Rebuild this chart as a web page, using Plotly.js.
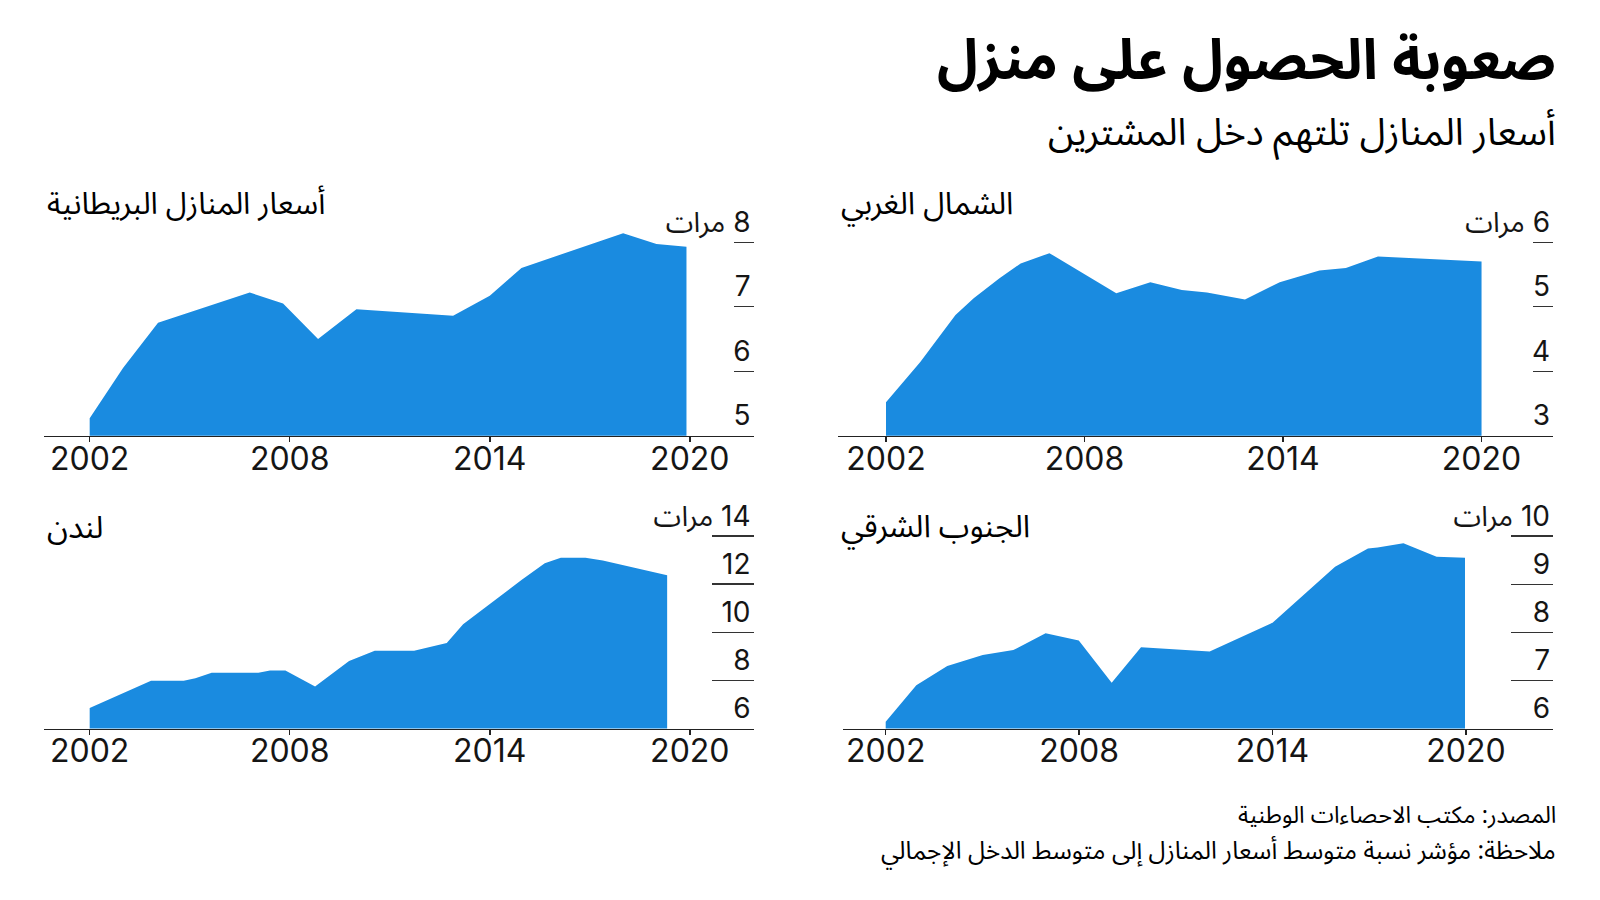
<!DOCTYPE html>
<html>
<head>
<meta charset="utf-8">
<script src="https://cdn.plot.ly/plotly-3.0.1.min.js"></script>
<style>
  html, body { margin: 0; padding: 0; background: #ffffff; }
  #chart { width: 1600px; height: 900px; }
</style>
</head>
<body>
<div id="chart"></div>
<script>
// ---- Data ----
const xTickYears = [2002, 2008, 2014, 2020];
const xTickLabels = ['2002', '2008', '2014', '2020'];

// UK (England) house price to earnings ratio
const ukYears = [2002, 2003, 2004.05, 2006.8, 2007.8, 2008.85, 2010, 2012.9, 2014, 2014.95, 2018, 2019, 2019.9];
const ukRatio = [5.27, 6.05, 6.75, 7.22, 7.05, 6.50, 6.96, 6.86, 7.17, 7.60, 8.14, 7.97, 7.93];

// North West
const nwYears = [2002, 2002.75, 2003.03, 2004.1, 2004.65, 2005.43, 2006.07, 2006.94, 2008.96, 2009.99, 2010.94, 2011.7, 2012.85, 2013.9, 2014.54, 2015.1, 2015.9, 2016.87, 2020];
const nwRatio = [3.52, 3.98, 4.14, 4.87, 5.13, 5.44, 5.67, 5.83, 5.21, 5.38, 5.26, 5.22, 5.11, 5.38, 5.48, 5.56, 5.60, 5.78, 5.70];

// London
const ldYears = [2002, 2003.84, 2004.82, 2005.17, 2005.66, 2007.06, 2007.41, 2007.87, 2008.76, 2009.78, 2010.55, 2011.73, 2012.71, 2013.2, 2014.95, 2015.65, 2016.13, 2016.87, 2017.39, 2017.95, 2019.32];
const ldRatio = [6.85, 7.98, 7.98, 8.09, 8.32, 8.32, 8.41, 8.41, 7.75, 8.81, 9.23, 9.23, 9.55, 10.33, 12.17, 12.87, 13.10, 13.10, 12.98, 12.80, 12.37];

// South East
const seYears = [2002, 2002.95, 2003.91, 2005.01, 2005.96, 2006.96, 2007.99, 2009.01, 2009.92, 2012.05, 2014, 2014.91, 2015.94, 2016.96, 2017.26, 2018.06, 2019.09, 2019.97];
const seRatio = [6.14, 6.90, 7.30, 7.53, 7.63, 7.98, 7.83, 6.95, 7.69, 7.60, 8.20, 8.74, 9.36, 9.74, 9.76, 9.85, 9.57, 9.55];

// Y tick values / labels per panel
const ukTickVals = [5, 6, 7, 8];
const ukTickText = ['5', '6', '7', 'مرات\u200E 8'];
const nwTickVals = [3, 4, 5, 6];
const nwTickText = ['3', '4', '5', 'مرات\u200E 6'];
const ldTickVals = [6, 8, 10, 12, 14];
const ldTickText = ['6', '8', '10', '12', 'مرات\u200E 14'];
const seTickVals = [6, 7, 8, 9, 10];
const seTickText = ['6', '7', '8', '9', 'مرات\u200E 10'];

// Text
const mainTitle = 'صعوبة الحصول على منزل';
const subTitle = 'أسعار المنازل تلتهم دخل المشترين';
const panelTitles = ['أسعار المنازل البريطانية', 'الشمال الغربي', 'لندن', 'الجنوب الشرقي'];
const sourceText = 'المصدر: مكتب الاحصاءات الوطنية';
const noteText = 'ملاحظة: مؤشر نسبة متوسط أسعار المنازل إلى متوسط الدخل الإجمالي';

// ---- Styling ----
const W = 1600, H = 900;
const BLUE = '#1a8be0';
const INK = '#151515';
const NUMFONT = 'Inter, "Noto Sans Arabic", "DejaVu Sans", sans-serif';
const ARFONT = '"Noto Sans Arabic", "DejaVu Sans", sans-serif';

const px = v => v / W;
const py = v => 1 - v / H;

function areaTrace(x, y, xa, ya) {
  return {
    type: 'scatter', mode: 'lines', x: x, y: y,
    xaxis: xa, yaxis: ya,
    fill: 'tozeroy', fillcolor: BLUE,
    line: { width: 0, color: BLUE },
    hoverinfo: 'skip', showlegend: false
  };
}

function xAxis(domL, domR, r0, r1, anchor) {
  return {
    domain: [px(domL), px(domR)], range: [r0, r1], anchor: anchor,
    showline: true, linecolor: '#222', linewidth: 1.5,
    ticks: 'outside', ticklen: 5, tickwidth: 1.5, tickcolor: '#222',
    tickvals: xTickYears, ticktext: xTickLabels,
    ticklabelstandoff: -11,
    tickfont: { family: NUMFONT, size: 32, color: INK },
    showgrid: false, zeroline: false, fixedrange: true
  };
}

function yAxis(domB, domT, r0, r1, posX, tv, tt, tlen) {
  return {
    domain: [py(domB), py(domT)], range: [r0, r1],
    anchor: 'free', position: px(posX),
    side: 'right', showline: false,
    ticks: 'inside', ticklen: tlen, tickwidth: 1.3, tickcolor: '#333',
    tickvals: tv, ticktext: tt,
    ticklabelposition: 'inside top',
    ticklabeloverflow: 'allow',
    tickfont: { family: NUMFONT, size: 28, color: INK },
    showgrid: false, zeroline: false, fixedrange: true
  };
}

const data = [
  areaTrace(ukYears, ukRatio, 'x', 'y'),
  areaTrace(nwYears, nwRatio, 'x2', 'y2'),
  areaTrace(ldYears, ldRatio, 'x3', 'y3'),
  areaTrace(seYears, seRatio, 'x4', 'y4')
];

function ann(text, x, y, xanchor, size, weight) {
  return {
    text: text, xref: 'paper', yref: 'paper', x: px(x), y: py(y),
    xanchor: xanchor, yanchor: 'middle', showarrow: false,
    font: { family: ARFONT, size: size, color: '#000', weight: weight || 400 }
  };
}

const layout = {
  width: W, height: H,
  margin: { l: 0, r: 0, t: 0, b: 0, pad: 0 },
  paper_bgcolor: '#ffffff', plot_bgcolor: 'rgba(0,0,0,0)',
  showlegend: false,
  xaxis:  xAxis(44, 753.5, 2000.63, 2021.91, 'y'),
  yaxis:  yAxis(435.7, 200, 5, 8.654, 753.5, ukTickVals, ukTickText, 20),
  xaxis2: xAxis(837.7, 1553, 2000.54, 2022.16, 'y2'),
  yaxis2: yAxis(435.7, 200, 3, 6.654, 1553, nwTickVals, nwTickText, 20),
  xaxis3: xAxis(44, 753.5, 2000.63, 2021.91, 'y3'),
  yaxis3: yAxis(728.5, 500, 6, 15.497, 753.5, ldTickVals, ldTickText, 42),
  xaxis4: xAxis(843.3, 1553, 2000.685, 2022.70, 'y4'),
  yaxis4: yAxis(728.5, 500, 6, 10.75, 1553, seTickVals, seTickText, 42),
  annotations: [
    ann(mainTitle, 1558, 61, 'right', 56, 700),
    ann(subTitle, 1558, 133, 'right', 37.5),
    ann(panelTitles[0], 45, 204, 'left', 30.5),
    ann(panelTitles[1], 839, 204, 'left', 31),
    ann(panelTitles[2], 45, 528, 'left', 31),
    ann(panelTitles[3], 839, 527, 'left', 31),
    ann(sourceText, 1558, 815, 'right', 23.4),
    ann(noteText, 1558, 851, 'right', 24.6)
  ]
};

Plotly.newPlot('chart', data, layout, { staticPlot: true, displayModeBar: false });
</script>
</body>
</html>
